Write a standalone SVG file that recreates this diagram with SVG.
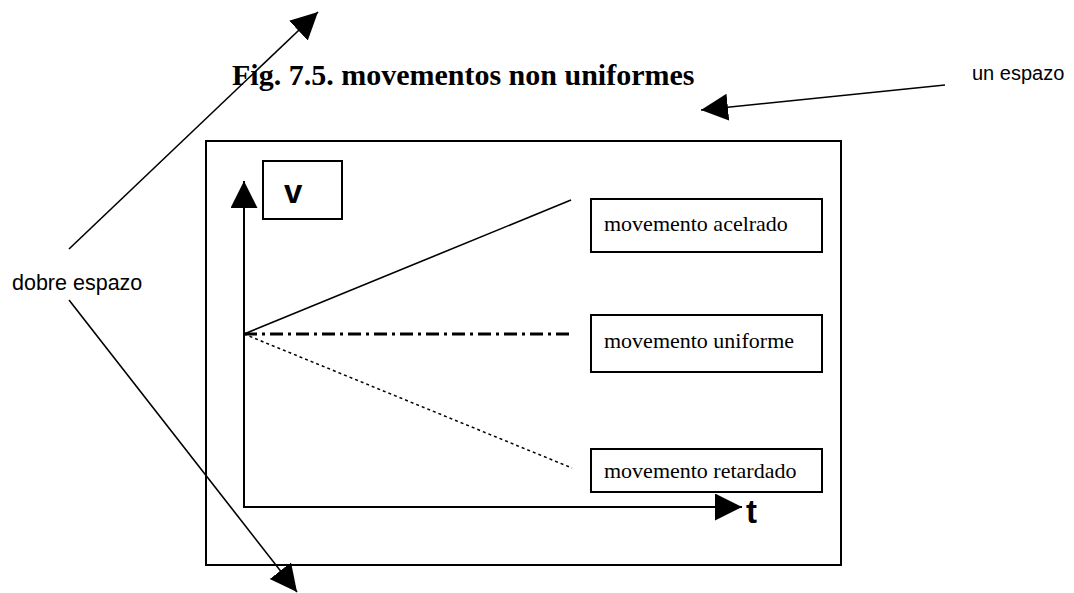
<svg xmlns="http://www.w3.org/2000/svg" width="1074" height="593" viewBox="0 0 1074 593">
<style>
.box{fill:#fff;stroke:#000;stroke-width:2}
.frame{fill:none;stroke:#000;stroke-width:2}
.serif{font-family:"Liberation Serif","Times New Roman",serif;fill:#000}
.sans{font-family:"Liberation Sans",Arial,sans-serif;fill:#000}
.lbl{font-size:22px}
.conn{fill:none;stroke:#000}
</style>
<defs>
<marker id="ah" markerUnits="userSpaceOnUse" markerWidth="28" markerHeight="28" refX="27" refY="13.5" orient="auto">
<path d="M0,0 L27,13.5 L0,27 z" fill="#000"/>
</marker>
</defs>
<rect id="frame" class="frame" x="206" y="141" width="635" height="424"/>
<g id="title"><text class="serif" x="232" y="85" font-size="30" font-weight="bold">Fig. 7.5. movementos non uniformes</text></g>
<g id="un-espazo"><text class="sans" x="972" y="80" font-size="20">un espazo</text></g>
<g id="dobre-espazo"><text class="sans" x="12" y="290" font-size="21.5">dobre espazo</text></g>
<g id="v-label"><rect class="box" x="263" y="161" width="79" height="58"/><text class="sans" x="284" y="202.5" font-size="33" font-weight="bold">v</text></g>
<g id="t-label"><text class="sans" x="746" y="523" font-size="33" font-weight="bold">t</text></g>
<g id="acelrado"><rect class="box" x="591" y="199" width="231" height="53"/><text class="serif lbl" x="604" y="231">movemento acelrado</text></g>
<g id="uniforme"><rect class="box" x="591" y="315" width="231" height="57"/><text class="serif lbl" x="604" y="348">movemento uniforme</text></g>
<g id="retardado"><rect class="box" x="591" y="449" width="231" height="43"/><text class="serif lbl" x="604" y="478">movemento retardado</text></g>
<g id="connectors">
<line class="conn" stroke-width="2" x1="244" y1="507" x2="244" y2="181" marker-end="url(#ah)"/>
<line class="conn" stroke-width="2" x1="243" y1="507" x2="742" y2="507" marker-end="url(#ah)"/>
<line class="conn" stroke-width="1.6" x1="244" y1="334" x2="571" y2="200"/>
<line class="conn" stroke-width="3" stroke-dasharray="13 5 3 5" x1="244" y1="334" x2="571" y2="334"/>
<line class="conn" stroke-width="1.5" stroke-dasharray="3 3" x1="244" y1="334" x2="572" y2="468"/>
<line class="conn" stroke-width="1.6" x1="945" y1="85" x2="701" y2="110" marker-end="url(#ah)"/>
<line class="conn" stroke-width="1.6" x1="69" y1="249" x2="318" y2="12" marker-end="url(#ah)"/>
<line class="conn" stroke-width="1.6" x1="69" y1="300" x2="297" y2="592" marker-end="url(#ah)"/>
</g>
</svg>
